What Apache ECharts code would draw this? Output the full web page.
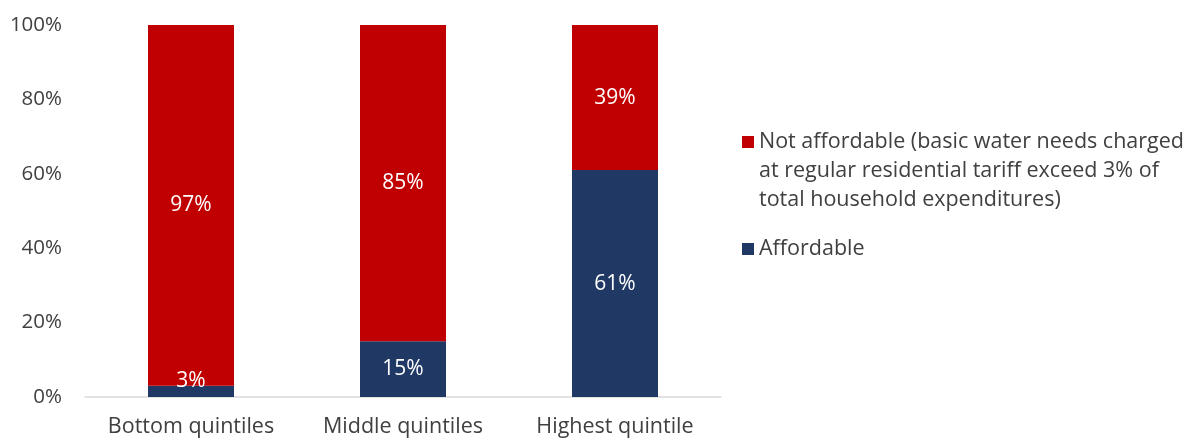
<!DOCTYPE html>
<html>
<head>
<meta charset="utf-8">
<script src="https://cdn.jsdelivr.net/npm/echarts@6/dist/echarts.min.js"></script>
<style>
  html, body { margin: 0; padding: 0; background: #fff; }
  #chart { width: 1194px; height: 442px; }
</style>
</head>
<body>
<div id="chart"></div>
<script>
// Water affordability by household expenditure quintile
const categories = ['Bottom quintiles', 'Middle quintiles', 'Highest quintile'];
const affordable = [3, 15, 61];
const notAffordable = [97, 85, 39];
const yTicks = [0, 20, 40, 60, 80, 100];

const nameAffordable = 'Affordable';
const nameNotAffordable = 'Not affordable (basic water needs charged\nat regular residential tariff exceed 3% of\ntotal household expenditures)';

const FONT = '"Open Sans", Lato, sans-serif';
const NAVY = '#203864';
const RED = '#C00000';
const LINE_H = 29;

const chart = echarts.init(document.getElementById('chart'));

chart.setOption({
  animation: false,
  textStyle: { fontFamily: FONT },
  grid: { left: 85, right: 473, top: 25, bottom: 45, containLabel: false },
  legend: {
    orient: 'vertical',
    left: 737,
    top: 137 - 2.5 * LINE_H,
    itemWidth: 12,
    itemHeight: 12,
    itemGap: 20,
    icon: 'rect',
    selectedMode: false,
    // two leading blank lines keep the marker level with the first text line
    formatter: name => name === nameNotAffordable ? '\n\n' + name : name,
    textStyle: { fontFamily: FONT, fontSize: 21.5, color: '#404040', lineHeight: LINE_H },
    data: [nameNotAffordable, nameAffordable]
  },
  xAxis: {
    type: 'category',
    data: categories,
    axisLine: { show: true, lineStyle: { color: '#D9D9D9', width: 1.5 } },
    axisTick: { show: false },
    axisLabel: {
      interval: 0,
      hideOverlap: false,
      fontFamily: FONT,
      fontSize: 21.5,
      color: '#404040',
      margin: 19
    }
  },
  yAxis: {
    type: 'value',
    min: yTicks[0],
    max: yTicks[yTicks.length - 1],
    interval: yTicks[1] - yTicks[0],
    splitLine: { show: false },
    axisLine: { show: false },
    axisTick: { show: false },
    axisLabel: { fontFamily: FONT, fontSize: 20.5, color: '#404040', margin: 23, formatter: v => v + '%' }
  },
  series: [
    {
      name: nameAffordable,
      type: 'bar',
      stack: 'total',
      barWidth: 86,
      itemStyle: { color: NAVY },
      label: {
        show: true,
        position: 'inside',
        color: '#fff',
        fontFamily: FONT,
        fontSize: 21,
        formatter: p => p.value + '%'
      },
      data: affordable.map((v, i) => i === 0
        ? { value: v, label: { offset: [0, -10] } }
        : v)
    },
    {
      name: nameNotAffordable,
      type: 'bar',
      stack: 'total',
      barWidth: 86,
      itemStyle: { color: RED },
      label: {
        show: true,
        position: 'inside',
        color: '#fff',
        fontFamily: FONT,
        fontSize: 21,
        formatter: p => p.value + '%'
      },
      data: notAffordable
    }
  ]
});
</script>
</body>
</html>
